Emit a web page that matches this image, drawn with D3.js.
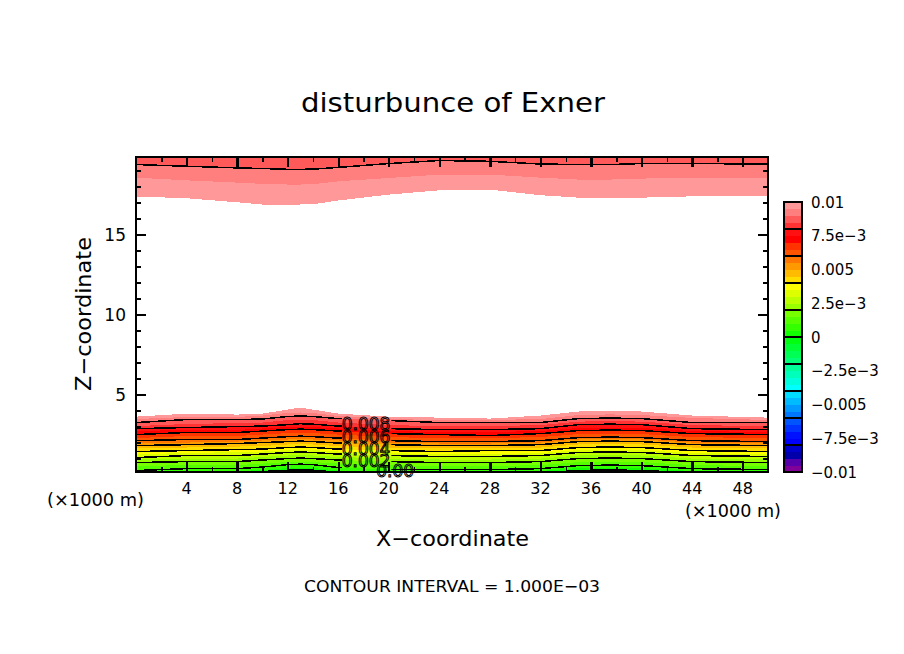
<!DOCTYPE html>
<html><head><meta charset="utf-8">
<script src="https://cdn.jsdelivr.net/npm/d3@7"></script>
<style>html,body{margin:0;background:#fff}svg{display:block}text{font-family:"DejaVu Sans";fill:#000}</style>
</head><body><svg id="c" width="904" height="654"></svg>
<script>
const knots=[0,4,8,10,12,13,14,16,20,24,28,32,35,37.5,40,44,50];
// heights (km) of the lower iso-surfaces, by Exner value
const L000=[.05,.12,.18,.19,.27,.29,.27,.15,.08,.05,.05,.10,.25,.29,.25,.12,.05];
const L005=[.16,.22,.22,.28,.41,.44,.41,.25,.16,.16,.16,.22,.41,.44,.41,.22,.16];
const L010=[.25,.37,.37,.47,.62,.65,.62,.44,.31,.31,.31,.37,.56,.59,.56,.37,.31];
const L015=[.53,.59,.59,.69,.78,.81,.78,.69,.59,.53,.53,.59,.78,.81,.78,.59,.53];
const L020=[.75,.81,.81,.91,1.00,1.03,1.00,.91,.81,.75,.75,.81,1.00,1.03,1.00,.81,.75];
const L025=[.94,1.00,1.00,1.10,1.19,1.22,1.19,1.10,1.00,.94,.94,1.00,1.19,1.22,1.19,1.00,.94];
const L030=[1.06,1.19,1.19,1.28,1.38,1.41,1.38,1.28,1.19,1.13,1.13,1.19,1.38,1.41,1.38,1.19,1.13];
const L035=[1.28,1.34,1.41,1.44,1.53,1.56,1.53,1.44,1.34,1.28,1.28,1.34,1.53,1.56,1.53,1.34,1.28];
const L040=[1.44,1.50,1.56,1.59,1.69,1.72,1.69,1.59,1.50,1.44,1.50,1.50,1.69,1.72,1.69,1.50,1.44];
const L045=[1.63,1.69,1.75,1.78,1.88,1.91,1.88,1.78,1.69,1.63,1.63,1.69,1.88,1.91,1.88,1.69,1.63];
const L050=[1.81,1.87,1.94,2.00,2.06,2.09,2.06,1.97,1.87,1.81,1.81,1.87,2.06,2.09,2.06,1.87,1.81];
const L055=[1.94,2.00,2.06,2.13,2.19,2.22,2.19,2.13,2.00,1.94,1.94,2.00,2.19,2.22,2.19,2.00,1.94];
const L060=[2.12,2.19,2.19,2.28,2.37,2.40,2.37,2.28,2.12,2.06,2.06,2.12,2.31,2.34,2.31,2.12,2.06];
const L065=[2.28,2.41,2.41,2.50,2.59,2.62,2.59,2.50,2.34,2.28,2.28,2.34,2.53,2.56,2.53,2.34,2.28];
const L070=[2.50,2.63,2.63,2.72,2.81,2.84,2.81,2.72,2.56,2.50,2.44,2.56,2.75,2.78,2.75,2.56,2.50];
const L075=[2.72,2.79,2.79,2.88,2.97,3.00,2.97,2.88,2.72,2.66,2.66,2.72,2.91,2.94,2.91,2.72,2.66];
const L080=[2.87,2.94,3.00,3.03,3.12,3.18,3.15,3.03,2.87,2.81,2.81,2.87,3.12,3.15,3.12,2.87,2.81];
const L085=[3.03,3.16,3.22,3.25,3.41,3.44,3.41,3.25,3.09,3.03,3.03,3.09,3.31,3.34,3.31,3.09,3.03];
const L090=[3.25,3.44,3.44,3.47,3.63,3.66,3.63,3.50,3.38,3.25,3.25,3.25,3.50,3.53,3.50,3.25,3.25];
const L095=[3.47,3.60,3.60,3.69,3.85,3.88,3.85,3.66,3.47,3.41,3.41,3.47,3.72,3.76,3.72,3.54,3.41];
const L100=[3.62,3.81,3.75,3.81,4.06,4.19,4.06,3.81,3.62,3.56,3.50,3.69,3.94,4.00,3.94,3.69,3.56];
// heights (km) of the upper iso-surfaces
const U100=[17.38,17.27,17.02,16.88,16.88,16.88,16.90,17.13,17.50,17.77,17.81,17.46,17.31,17.28,17.31,17.39,17.39];
const U095=[18.56,18.39,18.25,18.17,18.13,18.13,18.15,18.33,18.54,18.75,18.75,18.56,18.44,18.44,18.50,18.56,18.52];
const U090=[19.38,19.27,19.17,19.13,19.08,19.08,19.09,19.20,19.44,19.63,19.58,19.41,19.38,19.38,19.44,19.44,19.41];

const lowerSurfaces=[L000,L005,L010,L015,L020,L025,L030,L035,L040,L045,L050,L055,L060,L065,L070,L075,L080,L085,L090,L095,L100];
const lowerValues=d3.range(21).map(i=>i*0.0005);
const palette=["#800099","#5500aa","#0000aa","#0000cc","#0000ff","#0011ff","#0033ff","#0055ff","#0077ff","#0099ff","#00bbff","#00ddff","#00ffff","#00ffdd","#00ffbb","#00ff99","#00ff77","#00ff55","#00ff33","#00ff11","#11ff00","#33ff00","#55ff00","#77ff00","#99ff00","#bbff00","#ddff00","#ffff00","#ffdd00","#ffbb00","#ff9900","#ff7700","#ff5500","#ff3300","#ff0000","#ff1111","#ff3333","#ff5959","#ff7f7f","#ff9999"];
const barTicks=[-0.01,-0.0075,-0.005,-0.0025,0,0.0025,0.005,0.0075,0.01];
const barLabels=["−0.01","−7.5e−3","−0.005","−2.5e−3","0","2.5e−3","0.005","7.5e−3","0.01"];
const labelTexts=["0.008","0.006","0.004","0.002","0.00"];
const labelX=[18.2,18.2,18.2,18.2,20.5];
const labelZ=[3.16,2.38,1.59,0.88,0.25];
const xTicks=d3.range(0,51,2), xLabelled=[4,8,12,16,20,24,28,32,36,40,44,48];
const zTicks=d3.range(1,20), zLabelled=[5,10,15];

const svg=d3.select("#c");
const x=d3.scaleLinear().domain([0,50]).range([136,768]);
const z=d3.scaleLinear().domain([0.16,19.85]).range([472,157]);
const color=d3.scaleQuantize().domain([-0.01,0.01]).range(palette);
const defs=svg.append("defs");
defs.append("clipPath").attr("id","plot").append("rect").attr("x",x(0)).attr("y",z(19.85)).attr("width",x(50)-x(0)).attr("height",z(0.16)-z(19.85));
const gap=(id,a,b)=>{const c=defs.append("clipPath").attr("id",id);
  c.append("rect").attr("x",x(0)).attr("y",z(19.85)).attr("width",x(a)-x(0)).attr("height",z(0.16)-z(19.85));
  c.append("rect").attr("x",x(b)).attr("y",z(19.85)).attr("width",x(50)-x(b)).attr("height",z(0.16)-z(19.85));};
gap("gapA",16.3,20.2); gap("gapB",18.8,22.2);

const g=svg.append("g").attr("clip-path","url(#plot)").attr("shape-rendering","crispEdges");
const band=(lo,hi,v)=>g.append("path").attr("fill",color(v)).attr("d",
  d3.area().x((d,i)=>x(knots[i])).y0((d,i)=>z(lo[i])).y1((d,i)=>z(hi[i]))(knots));
const floor=knots.map(()=>0.16), ceil=knots.map(()=>19.85);
band(floor,L000,-0.00025);
lowerSurfaces.slice(0,-1).forEach((s,i)=>band(s,lowerSurfaces[i+1],lowerValues[i]+0.00025));
band(U100,U095,0.00975); band(U095,U090,0.00925); band(U090,ceil,0.00875);

const line=d3.line().x((d,i)=>x(knots[i])).y(d=>z(d));
const contour=(s,clip)=>svg.append("g").attr("clip-path",clip).append("path").attr("d",line(s))
  .attr("fill","none").attr("stroke","#000").attr("stroke-width",1.5).attr("shape-rendering","crispEdges");
[L010,L020,L030,L040,L050,L060,L070,L080,L090].forEach(s=>contour(s,"url(#gapA)"));
contour(L000,"url(#gapB)"); contour(U090,"url(#plot)");

labelTexts.forEach((t,i)=>{
  svg.append("text").attr("x",x(labelX[i])).attr("y",z(labelZ[i])).attr("dy","0.37em").attr("text-anchor","middle")
   .attr("font-size",17).style("fill","none").attr("stroke","#000").attr("stroke-width",1).text(t);
});

// frame and ticks
const axis=(gen,tf,vals,size,w)=>{const a=svg.append("g").attr("transform",tf)
  .call(gen.tickValues(vals).tickSize(size).tickFormat(""));
  a.select(".domain").remove();
  a.selectAll("line").attr("stroke","#000").attr("stroke-width",w).attr("shape-rendering","crispEdges");};
const minorX=xTicks.filter(t=>t%4), majorX=xTicks.filter(t=>t%4===0&&t>0&&t<50);
const minorZ=zTicks.filter(t=>t%5), majorZ=zLabelled;
axis(d3.axisTop(x),`translate(0,${z(0.16)})`,minorX,5,1.5);
axis(d3.axisTop(x),`translate(0,${z(0.16)})`,majorX,10,2.4);
axis(d3.axisBottom(x),`translate(0,${z(19.85)})`,minorX,5,1.5);
axis(d3.axisBottom(x),`translate(0,${z(19.85)})`,majorX,10,2.4);
axis(d3.axisRight(z),`translate(${x(0)},0)`,minorZ,5,1.5);
axis(d3.axisRight(z),`translate(${x(0)},0)`,majorZ,10,2.4);
axis(d3.axisLeft(z),`translate(${x(50)},0)`,minorZ,5,1.5);
axis(d3.axisLeft(z),`translate(${x(50)},0)`,majorZ,10,2.4);
svg.append("rect").attr("x",x(0)).attr("y",z(19.85)).attr("width",x(50)-x(0)).attr("height",z(0.16)-z(19.85))
  .attr("fill","none").attr("stroke","#000").attr("stroke-width",2.4).attr("shape-rendering","crispEdges");

const txt=(s,px,py,size,anchor,len)=>{const t=svg.append("text").attr("x",px).attr("y",py).attr("font-size",size).attr("text-anchor",anchor).text(s);
  if(len)t.attr("textLength",len).attr("lengthAdjust","spacingAndGlyphs");return t;};
xLabelled.forEach(t=>txt(String(t),x(t),494,16,"middle"));
zLabelled.forEach(t=>txt(String(t),126,z(t)+6,17,"end"));
txt("(×1000 m)",47,506,17,"start",97);
txt("(×1000 m)",685,517,17,"start",96);
txt("disturbunce of Exner",301,112,27,"start",304);
txt("X−coordinate",376,546,22,"start",153);
txt("Z−coordinate",0,0,22,"start",154).attr("transform","translate(91,391) rotate(-90)");
txt("CONTOUR INTERVAL = 1.000E−03",304,592,16,"start",296);

// colour bar
const bar=d3.scaleLinear().domain([-0.01,0.01]).range([472,202]);
const bg=svg.append("g").attr("shape-rendering","crispEdges");
bg.selectAll("rect").data(palette).join("rect").attr("x",784).attr("width",18)
  .attr("y",(d,i)=>bar(-0.01+(i+1)*0.0005)).attr("height",bar(0)-bar(0.0005)+0.5).attr("fill",d=>d);
bg.selectAll("line").data(d3.range(1,10).map(i=>-0.01+i*0.002)).join("line")
  .attr("x1",784).attr("x2",802).attr("y1",d=>bar(d)).attr("y2",d=>bar(d)).attr("stroke","#000").attr("stroke-width",2);
bg.append("rect").attr("x",784).attr("y",bar(0.01)).attr("width",18).attr("height",bar(-0.01)-bar(0.01))
  .attr("fill","none").attr("stroke","#000").attr("stroke-width",2);
barTicks.forEach((t,i)=>txt(barLabels[i],811,bar(t)+5.5,15,"start"));
</script></body></html>
